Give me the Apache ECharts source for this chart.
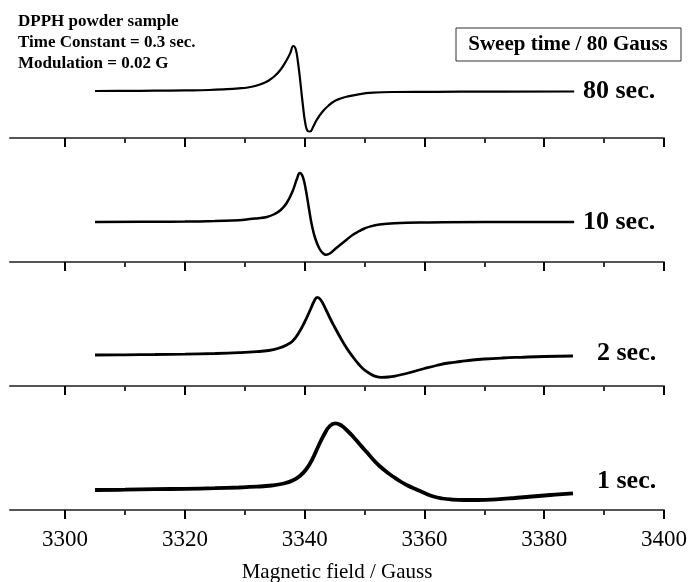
<!DOCTYPE html>
<html>
<head>
<meta charset="utf-8">
<script src="https://cdn.jsdelivr.net/npm/echarts@6/dist/echarts.min.js"></script>
<style>
  html, body { margin: 0; padding: 0; background: #fff; }
  #main { width: 688px; height: 582px; }
</style>
</head>
<body>
<div id="main"></div>
<script>
// EPR spectra of DPPH, [field (G), signal (a.u., baseline = 0)]
const curve80 = [
  [3305, 0], [3310, 0.1], [3315, 0.3], [3320, 0.6], [3324, 1.0], [3327, 1.8], [3329, 2.6],
  [3330.5, 3.5], [3332, 5.5], [3333, 7.5], [3334, 10.5], [3335, 15], [3336, 21.5], [3337, 31],
  [3337.6, 38], [3338.1, 45], [3338.5, 42], [3338.9, 28], [3339.3, 8], [3339.7, -14],
  [3340.1, -32], [3340.5, -40], [3340.9, -40.5], [3341.4, -36], [3342, -29], [3343, -20.5],
  [3344, -14.5], [3345, -10], [3346, -7.5], [3347, -5.7], [3349, -3.3], [3351.4, -1.7],
  [3355, -1], [3362, -0.8], [3370, -0.6], [3385, -0.5]
];
const curve10 = [
  [3305, 0], [3315, 0.2], [3320, 0.4], [3325, 0.9], [3328, 1.5], [3330, 2.3], [3332, 3.6],
  [3333.7, 5], [3335, 8], [3336, 12], [3337, 19], [3338, 31], [3338.7, 43], [3339.2, 49],
  [3339.7, 45], [3340.2, 32], [3340.7, 14], [3341.2, -3], [3341.8, -17], [3342.5, -27],
  [3343.1, -31.5], [3343.6, -32.7], [3344.2, -31.5], [3345, -27.5], [3346, -22.5], [3347, -17.7],
  [3348, -13], [3349, -9.5], [3350, -6.5], [3351, -4.4], [3352.5, -2.6], [3355, -1.3],
  [3360, -0.5], [3370, 0], [3385, 0]
];
const curve2 = [
  [3305, 0], [3310, 0.2], [3315, 0.5], [3320, 0.9], [3325, 1.5], [3329, 2.3], [3332, 3.3],
  [3334, 4.5], [3335.5, 6.5], [3337, 10], [3338, 14], [3339, 22], [3340, 33], [3341, 46],
  [3341.6, 54], [3342.1, 57.7], [3342.7, 55], [3343.5, 46], [3344.3, 36], [3345, 28],
  [3346, 17], [3347, 7], [3348, -1.5], [3349, -9], [3350, -15], [3351, -19], [3352, -21.7],
  [3352.8, -22.3], [3354, -22], [3355.5, -20.5], [3357, -18.5], [3358.5, -16], [3360, -13.5],
  [3362, -10.5], [3364, -8], [3366, -6.5], [3368, -5], [3370, -4], [3373, -3], [3376, -2.3],
  [3380, -1.5], [3384.8, -1]
];
const curve1 = [
  [3305, 0], [3310, 0.3], [3315, 0.8], [3320, 1.2], [3325, 1.8], [3329, 2.5], [3332, 3.3],
  [3334.5, 4.5], [3336.5, 6.5], [3338, 9.5], [3339.2, 14], [3340.3, 21], [3341.3, 31],
  [3342.3, 44], [3343.3, 56], [3344.2, 64], [3345.1, 66.7], [3346, 65], [3347, 60],
  [3348.1, 53.3], [3349.3, 45], [3350.5, 37], [3351.5, 30], [3352.5, 24], [3353.7, 18],
  [3354.8, 13.3], [3356, 8.5], [3357.2, 4.5], [3358.5, 1], [3360, -3], [3361.5, -6.5],
  [3363, -8.5], [3364.5, -9.5], [3366.5, -10], [3369, -10], [3372, -9.3], [3375, -8],
  [3378, -6.5], [3381, -5], [3384.8, -3.3]
];
const curves = [curve80, curve10, curve2, curve1];
const sweepLabels = ['80 sec.', '10 sec.', '2 sec.', '1 sec.'];
const majorTicks = [3300, 3320, 3340, 3360, 3380, 3400];
const minorTicks = [3310, 3330, 3350, 3370, 3390];

const chart = echarts.init(document.getElementById('main'));

const panelTop = [14, 138, 262, 386];
const panelH = 124;
const yRange = [[-47, 77], [-40, 84], [-31, 93], [-20, 104]];
const lineW = [2.2, 2.5, 2.8, 3.8];
const labelPos = [[583, 91], [583, 222], [597, 353], [597, 481]];
const font = '"Liberation Serif", "Times New Roman", serif';

const grid = [], xAxis = [], yAxis = [], series = [];
for (let i = 0; i < 4; i++) {
  const last = i === 3;
  grid.push({ left: 10, right: 24, top: panelTop[i], height: panelH, outerBoundsMode: 'none' });
  xAxis.push({
    type: 'value', gridIndex: i, min: 3290.8, max: 3400, position: 'bottom',
    axisLine: { onZero: false, lineStyle: { color: '#555', width: 2 } },
    axisTick: { customValues: majorTicks, length: 9, lineStyle: { color: '#000', width: 2 } },
    axisLabel: {
      show: last, customValues: majorTicks, margin: 18, hideOverlap: false,
      color: '#000', fontFamily: font, fontSize: 23,
      formatter: function(v) { return String(v); }
    },
    splitLine: { show: false },
    name: last ? 'Magnetic field / Gauss' : '',
    nameLocation: 'middle', nameGap: 52,
    nameTextStyle: { color: '#000', fontFamily: font, fontSize: 21 }
  });
  yAxis.push({
    type: 'value', gridIndex: i, min: yRange[i][0], max: yRange[i][1], show: false
  });
  series.push({
    type: 'line', xAxisIndex: i, yAxisIndex: i, data: curves[i],
    showSymbol: false, smooth: 0.45,
    lineStyle: { color: '#000', width: lineW[i] }, silent: true
  });
}
// minor ticks on their own overlay axes
for (let i = 0; i < 4; i++) {
  grid.push({ left: 10, right: 24, top: panelTop[i], height: panelH, outerBoundsMode: 'none' });
  xAxis.push({
    type: 'value', gridIndex: 4 + i, min: 3290.8, max: 3400, position: 'bottom',
    axisLine: { show: false, onZero: false },
    axisTick: { customValues: minorTicks, length: 5, lineStyle: { color: '#333', width: 2 } },
    axisLabel: { show: false },
    splitLine: { show: false }
  });
  yAxis.push({ type: 'value', gridIndex: 4 + i, show: false });
}

const graphic = [
  {
    type: 'text', left: 18, top: 11,
    style: {
      text: 'DPPH powder sample\nTime Constant = 0.3 sec.\nModulation = 0.02 G',
      font: 'bold 17px ' + font, lineHeight: 21, fill: '#000'
    }
  },
  {
    type: 'rect', shape: { x: 456, y: 28, width: 225, height: 33 },
    style: { fill: '#fff', stroke: '#333', lineWidth: 1 }
  },
  {
    type: 'text', x: 568, y: 45,
    style: {
      text: 'Sweep time / 80 Gauss', font: 'bold 21px ' + font,
      align: 'center', verticalAlign: 'middle', fill: '#000'
    }
  }
];
sweepLabels.forEach(function(t, i) {
  graphic.push({
    type: 'text', x: labelPos[i][0], y: labelPos[i][1],
    style: { text: t, font: 'bold 26px ' + font, verticalAlign: 'middle', fill: '#000' }
  });
});

chart.setOption({
  animation: false,
  backgroundColor: '#fff',
  grid: grid,
  xAxis: xAxis,
  yAxis: yAxis,
  series: series,
  graphic: graphic
});
</script>
</body>
</html>
